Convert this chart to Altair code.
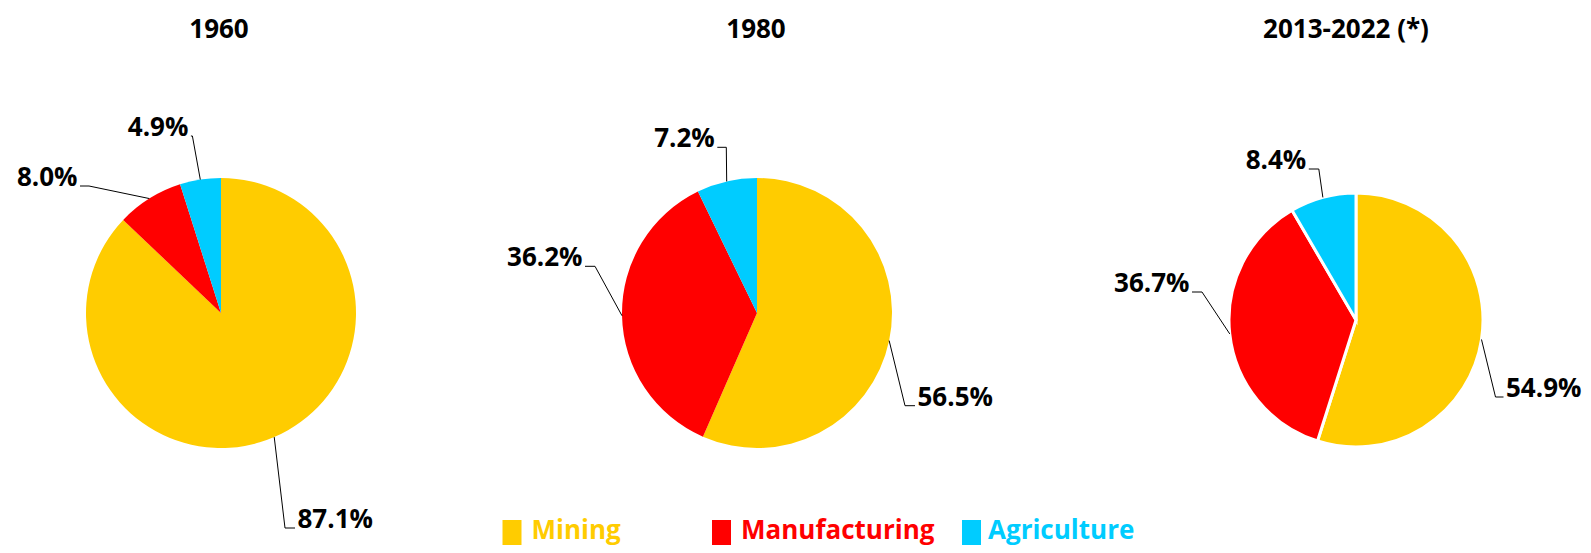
import math
import altair as alt
import pandas as pd

# ---------------- data ----------------
years = ["1960", "1980", "2013-2022 (*)"]
sectors = ["Mining", "Manufacturing", "Agriculture"]
mining = [87.1, 56.5, 54.9]
manufacturing = [8.0, 36.2, 36.7]
agriculture = [4.9, 7.2, 8.4]
colors = ["#FFCC00", "#FF0000", "#00CCFF"]

# ---------------- layout (page pixels) ----------------
W, H, M = 1575, 537, 8
PIE = {
    "1960": dict(cx=221, cy=313, r=135, tx=219),
    "1980": dict(cx=757, cy=313, r=135, tx=756),
    "2013-2022 (*)": dict(cx=1356, cy=320, r=127, tx=1346),
}
PIE_STROKE = {"1960": 0, "1980": 0, "2013-2022 (*)": 3}
TITLE_BASELINE = 38
# leader-line elbow offsets from each pie's centre, and horizontal segment length
ELBOW = {
    ("1960", "Mining"): (64, 215, 10),
    ("1960", "Manufacturing"): (-132, -127, 9),
    ("1960", "Agriculture"): (-28.6, -177, 1.5),
    ("1980", "Mining"): (148, 92.7, 10),
    ("1980", "Manufacturing"): (-162, -46.7, 10),
    ("1980", "Agriculture"): (-30.7, -165.7, 9),
    ("2013-2022 (*)", "Mining"): (139.5, 77, 8),
    ("2013-2022 (*)", "Manufacturing"): (-154, -28, 10),
    ("2013-2022 (*)", "Agriculture"): (-37.2, -151, 10),
}
TEXT_GAP = 2.5
LEGEND_KEY_X = {"Mining": 502.5, "Manufacturing": 712, "Agriculture": 962}
LEGEND_KEY_W = 19
LEGEND_TEXT_X = {"Mining": 531.5, "Manufacturing": 741, "Agriculture": 988}
LEGEND_TOP, LEGEND_BOTTOM, LEGEND_BASELINE = 520, 545, 538.5
FONT = "Open Sans"
LABEL_SIZE, TITLE_SIZE, LEGEND_SIZE = 26, 26, 26

series = [mining, manufacturing, agriculture]

rows, lines, labels = [], [], []
for i, yr in enumerate(years):
    p = PIE[yr]
    vals = [s[i] for s in series]
    total = sum(vals)
    cum = 0.0
    for j, sec in enumerate(sectors):
        v = vals[j]
        rows.append(dict(year=yr, sector=sec, idx=j, value=v, cx=p["cx"], cy=p["cy"]))
        mid = (cum + v / 2) / total * 2 * math.pi
        cum += v
        ax = p["cx"] + p["r"] * math.sin(mid)
        ay = p["cy"] - p["r"] * math.cos(mid)
        edx, edy, hl = ELBOW[(yr, sec)]
        ex, ey = p["cx"] + edx, p["cy"] + edy
        side = 1 if edx > 0 else -1
        hx = ex + side * hl
        key = f"{yr}-{sec}"
        for k, (px, py) in enumerate([(ax, ay), (ex, ey), (hx, ey)]):
            lines.append(dict(key=key, pt=k, x=px, y=py))
        labels.append(dict(year=yr, sector=sec, text=f"{v:.1f}%",
                           x=hx + side * TEXT_GAP, y=ey,
                           side="right" if side > 0 else "left"))

df = pd.DataFrame(rows)
lines_df = pd.DataFrame(lines)
labels_df = pd.DataFrame(labels)
titles_df = pd.DataFrame([dict(text=yr, x=PIE[yr]["tx"], y=TITLE_BASELINE) for yr in years])
legend_df = pd.DataFrame([dict(sector=s, idx=j, x=LEGEND_KEY_X[s], x2=LEGEND_KEY_X[s] + LEGEND_KEY_W,
                               y=LEGEND_TOP, y2=LEGEND_BOTTOM, tx=LEGEND_TEXT_X[s], ty=LEGEND_BASELINE)
                          for j, s in enumerate(sectors)])

xs = alt.Scale(domain=[M, M + W], range=[0, W], zero=False, nice=False)
ys = alt.Scale(domain=[M, M + H], range=[0, H], zero=False, nice=False)
cs = alt.Scale(domain=sectors, range=colors)

layers = []
for yr in years:
    sw = PIE_STROKE[yr]
    mk = alt.Chart(df).mark_arc(outerRadius=PIE[yr]["r"], stroke="white", strokeWidth=sw) if sw else \
        alt.Chart(df).mark_arc(outerRadius=PIE[yr]["r"])
    layers.append(
        mk.transform_filter(alt.datum.year == yr).encode(
            theta=alt.Theta("value:Q", stack="normalize"),
            color=alt.Color("sector:N", scale=cs, legend=None),
            order=alt.Order("idx:Q"),
            x=alt.X("cx:Q", scale=xs, axis=None),
            y=alt.Y("cy:Q", scale=ys, axis=None),
        )
    )

leader = alt.Chart(lines_df).mark_line(color="black", strokeWidth=1).encode(
    x=alt.X("x:Q", scale=xs, axis=None),
    y=alt.Y("y:Q", scale=ys, axis=None),
    detail="key:N",
    order="pt:Q",
)

def label_layer(side, align):
    return alt.Chart(labels_df).transform_filter(alt.datum.side == side).mark_text(
        align=align, baseline="alphabetic", font=FONT, fontWeight="bold", fontSize=LABEL_SIZE, color="black"
    ).encode(x=alt.X("x:Q", scale=xs, axis=None), y=alt.Y("y:Q", scale=ys, axis=None), text="text:N")

titles = alt.Chart(titles_df).mark_text(
    align="center", baseline="alphabetic", font=FONT, fontWeight="bold", fontSize=TITLE_SIZE, color="black"
).encode(x=alt.X("x:Q", scale=xs, axis=None), y=alt.Y("y:Q", scale=ys, axis=None), text="text:N")

legend_keys = alt.Chart(legend_df).mark_rect().encode(
    x=alt.X("x:Q", scale=xs, axis=None), x2="x2:Q",
    y=alt.Y("y:Q", scale=ys, axis=None), y2="y2:Q",
    color=alt.Color("sector:N", scale=cs, legend=None),
)
legend_text = alt.Chart(legend_df).mark_text(
    align="left", baseline="alphabetic", font=FONT, fontWeight="bold", fontSize=LEGEND_SIZE
).encode(
    x=alt.X("tx:Q", scale=xs, axis=None), y=alt.Y("ty:Q", scale=ys, axis=None),
    text="sector:N", color=alt.Color("sector:N", scale=cs, legend=None),
)

chart = alt.layer(
    *layers, leader, label_layer("right", "left"), label_layer("left", "right"),
    titles, legend_keys, legend_text
).properties(
    width=W, height=H, autosize=alt.AutoSizeParams(type="none"), padding=0, background="white"
).configure_view(stroke=None)

chart.save("out.html", embed_options={"renderer": "svg", "actions": False})
